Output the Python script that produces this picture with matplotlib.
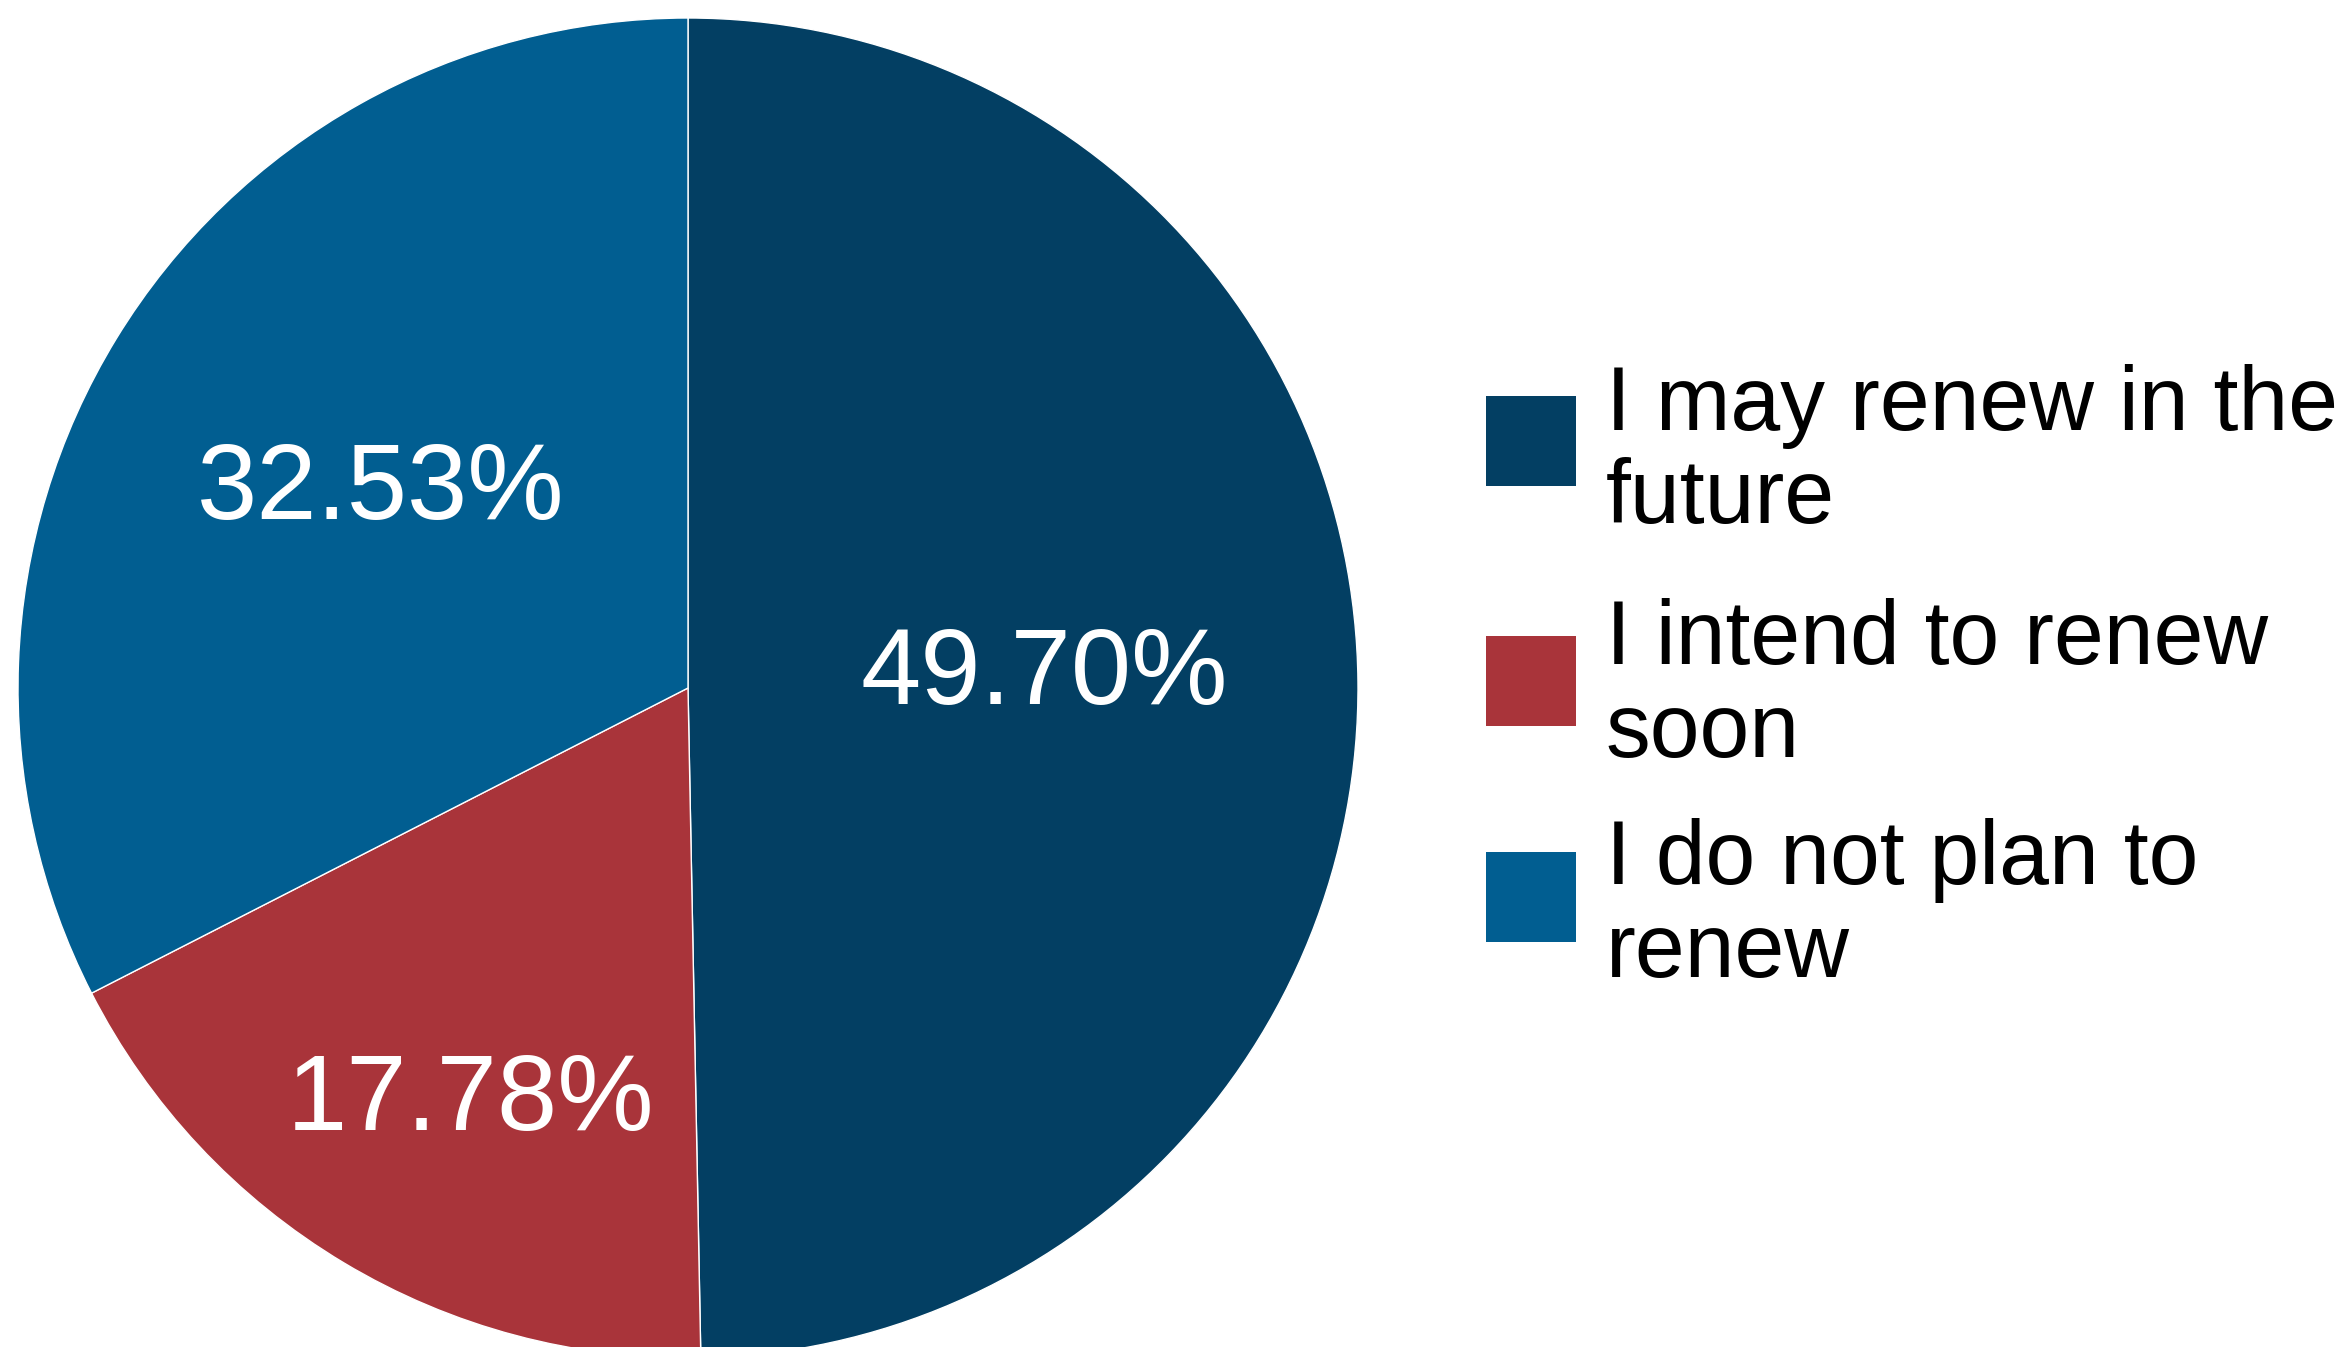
import matplotlib
matplotlib.use("Agg")
import matplotlib.pyplot as plt
from matplotlib.patches import Rectangle

plt.rcParams['font.family'] = ['Liberation Sans', 'DejaVu Sans']

# data
labels = ["I may renew in the\nfuture", "I intend to renew\nsoon", "I do not plan to\nrenew"]
values = [49.70, 17.78, 32.53]
colors = ["#033f63", "#a9343a", "#015e91"]

W, H = 2347, 1347
fig = plt.figure(figsize=(W / 100, H / 100), dpi=100)

# pie centre at (688, 688) px from top-left, radius 670 px
cx, cy, r = 688, H - 688, 670
ax = fig.add_axes([(cx - r) / W, (cy - r) / H, 2 * r / W, 2 * r / H])

wedges, texts, autotexts = ax.pie(
    values, colors=colors, startangle=90, counterclock=False,
    autopct=lambda p: "%.2f%%" % p, pctdistance=0.54, radius=1,
    wedgeprops=dict(edgecolor="white", linewidth=1),
    textprops=dict(color="white", fontsize=78))
ax.set_xlim(-1, 1)
ax.set_ylim(-1, 1)
ax.axis("off")

# the small slice's label sits further out, then small nudges for all
scale = [1.0, 0.69 / 0.54, 1.0]
nudges = [(-0.008, 0.013), (0.030, -0.026), (0.002, 0.013)]
for t, s, (dx, dy) in zip(autotexts, scale, nudges):
    x, y = t.get_position()
    t.set_position((x * s + dx, y * s + dy))

# legend drawn by hand: squares and two-line labels
box_tops = [396, 636, 852]
last_baselines = [523, 757, 977]
for top, base, lab, col in zip(box_tops, last_baselines, labels, colors):
    fig.add_artist(Rectangle((1486 / W, 1 - (top + 90) / H), 90 / W, 90 / H,
                             transform=fig.transFigure, facecolor=col,
                             edgecolor="none"))
    fig.text(1606 / W, 1 - base / H, lab, fontsize=64.5, color="black",
             va="baseline", ha="left", linespacing=1.125)

fig.savefig("out.png", dpi=100)
